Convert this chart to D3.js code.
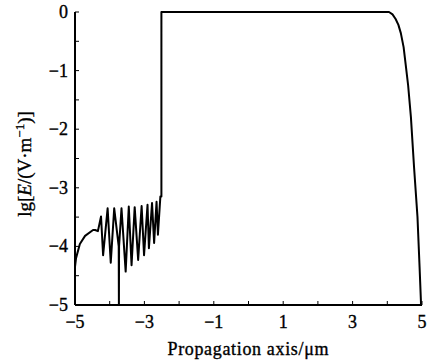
<!DOCTYPE html>
<html>
<head>
<meta charset="utf-8">
<script src="https://cdn.jsdelivr.net/npm/d3@7/dist/d3.min.js"></script>
<style>
  body { margin: 0; background: #fff; }
  svg { display: block; }
  text { font-family: "Liberation Serif", "Times New Roman", serif; fill: #000; stroke: #000; stroke-width: 0.35px; }
</style>
</head>
<body>
<script>
// propagation axis position (um) and log10 of field
const posX = [-5, -5, -4.97, -4.86, -4.71, -4.48, -4.42, -4.34, -4.25, -4.19, -4.06, -3.97, -3.87,
  -3.74, -3.735, -3.73, -3.66, -3.54, -3.45, -3.37, -3.28, -3.18, -3.08, -3.01, -2.91, -2.87,
  -2.78, -2.72, -2.65, -2.61, -2.54, -2.51, -2.51,
  4.05, 4.15, 4.24, 4.32, 4.39, 4.47, 4.53, 4.6, 4.68, 4.77, 4.87, 4.93, 4.97, 4.97];
const lgE = [-5, -4.35, -4.2, -3.96, -3.82, -3.72, -3.72, -3.74, -3.49, -4.15, -3.35, -4.28, -3.35,
  -4.0, -5, -4.0, -3.35, -4.43, -3.32, -4.32, -3.33, -4.23, -3.31, -4.15, -3.29, -4.03,
  -3.26, -3.94, -3.24, -3.8, -3.15, -3.15, 0,
  0, -0.04, -0.12, -0.22, -0.36, -0.6, -0.9, -1.25, -1.79, -2.64, -3.5, -4.35, -4.95, -5];

const xTicks = [-5, -4, -3, -2, -1, 0, 1, 2, 3, 4, 5];
const xLabels = [-5, -3, -1, 1, 3, 5];
const yTicks = [0, -0.5, -1, -1.5, -2, -2.5, -3, -3.5, -4, -4.5, -5];
const yLabels = [0, -1, -2, -3, -4, -5];

const width = 427, height = 363;
const margin = { top: 12, right: 5, bottom: 58, left: 75 };

const svg = d3.select('body').append('svg')
  .attr('width', width)
  .attr('height', height);

const x = d3.scaleLinear().domain([-5, 5]).range([margin.left, width - margin.right]);
const y = d3.scaleLinear().domain([-5, 0]).range([height - margin.bottom, margin.top]);

const fmt = d => d < 0 ? '\u2212' + Math.abs(d) : String(d);

// axes lines
svg.append('line')
  .attr('x1', x(-5)).attr('x2', x(5))
  .attr('y1', y(-5)).attr('y2', y(-5))
  .attr('stroke', '#000').attr('stroke-width', 2);
svg.append('line')
  .attr('x1', x(-5)).attr('x2', x(-5))
  .attr('y1', y(-5)).attr('y2', y(0))
  .attr('stroke', '#000').attr('stroke-width', 2);

// inward ticks
svg.selectAll('.xt').data(xTicks).enter().append('line')
  .attr('x1', d => x(d)).attr('x2', d => x(d))
  .attr('y1', y(-5)).attr('y2', y(-5) - 4)
  .attr('stroke', '#000').attr('stroke-width', 1);
svg.selectAll('.yt').data(yTicks).enter().append('line')
  .attr('x1', x(-5)).attr('x2', x(-5) + 4)
  .attr('y1', d => y(d)).attr('y2', d => y(d))
  .attr('stroke', '#000').attr('stroke-width', 1);

svg.selectAll('.xl').data(xLabels).enter().append('text')
  .attr('x', d => x(d))
  .attr('y', y(-5) + 23)
  .attr('text-anchor', 'middle')
  .style('font-size', '18px')
  .text(fmt);
svg.selectAll('.yl').data(yLabels).enter().append('text')
  .attr('x', x(-5) - 7)
  .attr('y', d => y(d) + 6)
  .attr('text-anchor', 'end')
  .style('font-size', '18px')
  .text(fmt);

// axis titles
svg.append('text')
  .attr('x', 248).attr('y', 355)
  .attr('text-anchor', 'middle')
  .style('font-size', '18px')
  .attr('textLength', 161)
  .text('Propagation axis/\u03bcm');

const yt = svg.append('text')
  .attr('transform', 'translate(31,164) rotate(-90)')
  .attr('text-anchor', 'middle')
  .style('font-size', '19px');
yt.append('tspan').text('lg[');
yt.append('tspan').style('font-style', 'italic').text('E');
yt.append('tspan').text('/(V\u00b7m');
yt.append('tspan').attr('dy', -7).style('font-size', '13px').text('\u22121');
yt.append('tspan').attr('dy', 7).text(')]');

// curve
const line = d3.line()
  .x((d, i) => x(posX[i]))
  .y(d => y(d));

svg.append('path')
  .datum(lgE)
  .attr('fill', 'none')
  .attr('stroke', '#000')
  .attr('stroke-width', 2)
  .attr('stroke-linejoin', 'round')
  .attr('d', line);
</script>
</body>
</html>
